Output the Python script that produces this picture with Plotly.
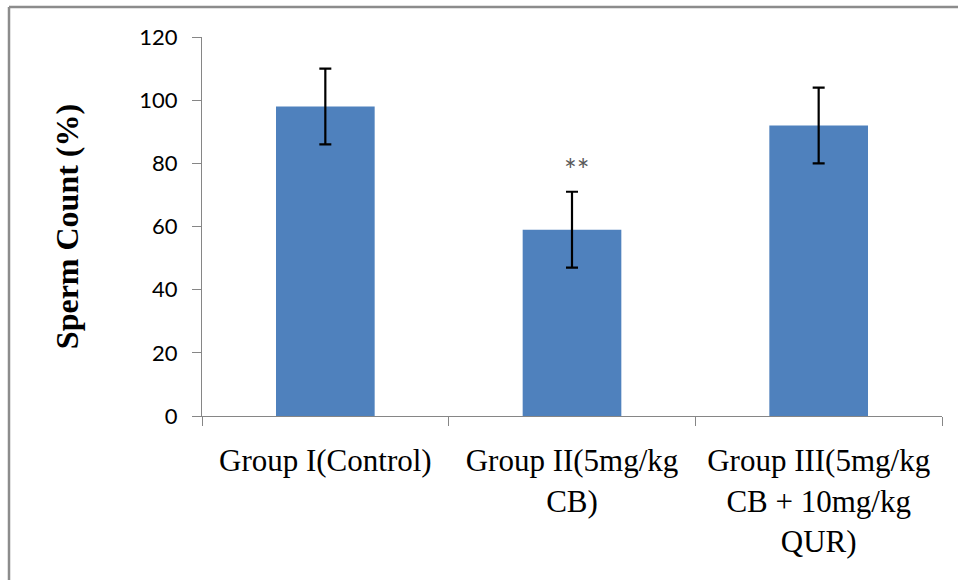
import plotly.graph_objects as go

# Sperm count per treatment group (mean ± SD, % of control)
groups = [
    "Group I(Control)",
    "Group II(5mg/kg<br>CB)",
    "Group III(5mg/kg<br>CB + 10mg/kg<br>QUR)",
]
sperm_count = [98, 59, 92]
sperm_sd = [12, 12, 12]
significance = ["", "**", ""]

W, H = 958, 580
ML, MR, MT, MB = 202, 16, 37, 164
plot_w = W - ML - MR
plot_h = H - MT - MB

fig = go.Figure()
fig.add_trace(go.Bar(
    x=groups,
    y=sperm_count,
    width=0.4,
    marker=dict(color="#4F81BD", line=dict(width=0)),
    error_y=dict(type="data", array=sperm_sd, visible=True,
                 color="#000000", thickness=2.2, width=6),
    showlegend=False,
))

for g, v, e, s in zip(groups, sperm_count, sperm_sd, significance):
    if s:
        fig.add_annotation(
            x=g, y=v + e + 7.3, text=s, showarrow=False, xshift=5,
            font=dict(family="Lato", size=30, color="#595959"),
        )

# chart-area frame (top and left edges)
px_to_x = lambda p: (p - ML) / plot_w
px_to_y = lambda p: (H - MB - p) / plot_h
frame = dict(type="line", xref="paper", yref="paper",
             line=dict(color="#8C8C8C", width=2.5))
fig.add_shape(x0=px_to_x(9), x1=px_to_x(W + 2), y0=px_to_y(7), y1=px_to_y(7), **frame)
fig.add_shape(x0=px_to_x(9), x1=px_to_x(9), y0=px_to_y(7), y1=px_to_y(H + 2), **frame)

fig.update_layout(
    width=W, height=H,
    margin=dict(l=ML, r=MR, t=MT, b=MB, pad=0),
    paper_bgcolor="white", plot_bgcolor="white",
    bargap=0.6,
)
fig.update_xaxes(
    type="category", range=[-0.5, 2.5],
    showline=True, linecolor="#868686", linewidth=1.3,
    ticks="outside", tickson="boundaries", ticklen=9, tickcolor="#868686", tickwidth=1.3,
    tickfont=dict(family="Liberation Serif", size=31, color="#000000"),
    ticklabelstandoff=17,
    showgrid=False, zeroline=False,
)
fig.update_yaxes(
    range=[0, 120], tickvals=[0, 20, 40, 60, 80, 100, 120],
    showline=True, linecolor="#868686", linewidth=1.3,
    ticks="outside", ticklen=9, tickcolor="#868686", tickwidth=1.3,
    tickfont=dict(family="Lato", size=22, color="#000000"),
    ticklabelstandoff=10,
    showgrid=False, zeroline=False,
    title=dict(text="<b>Sperm Count (%)</b>", standoff=50,
               font=dict(family="Liberation Serif", size=32, color="#000000")),
)

fig.write_html("out.html")
